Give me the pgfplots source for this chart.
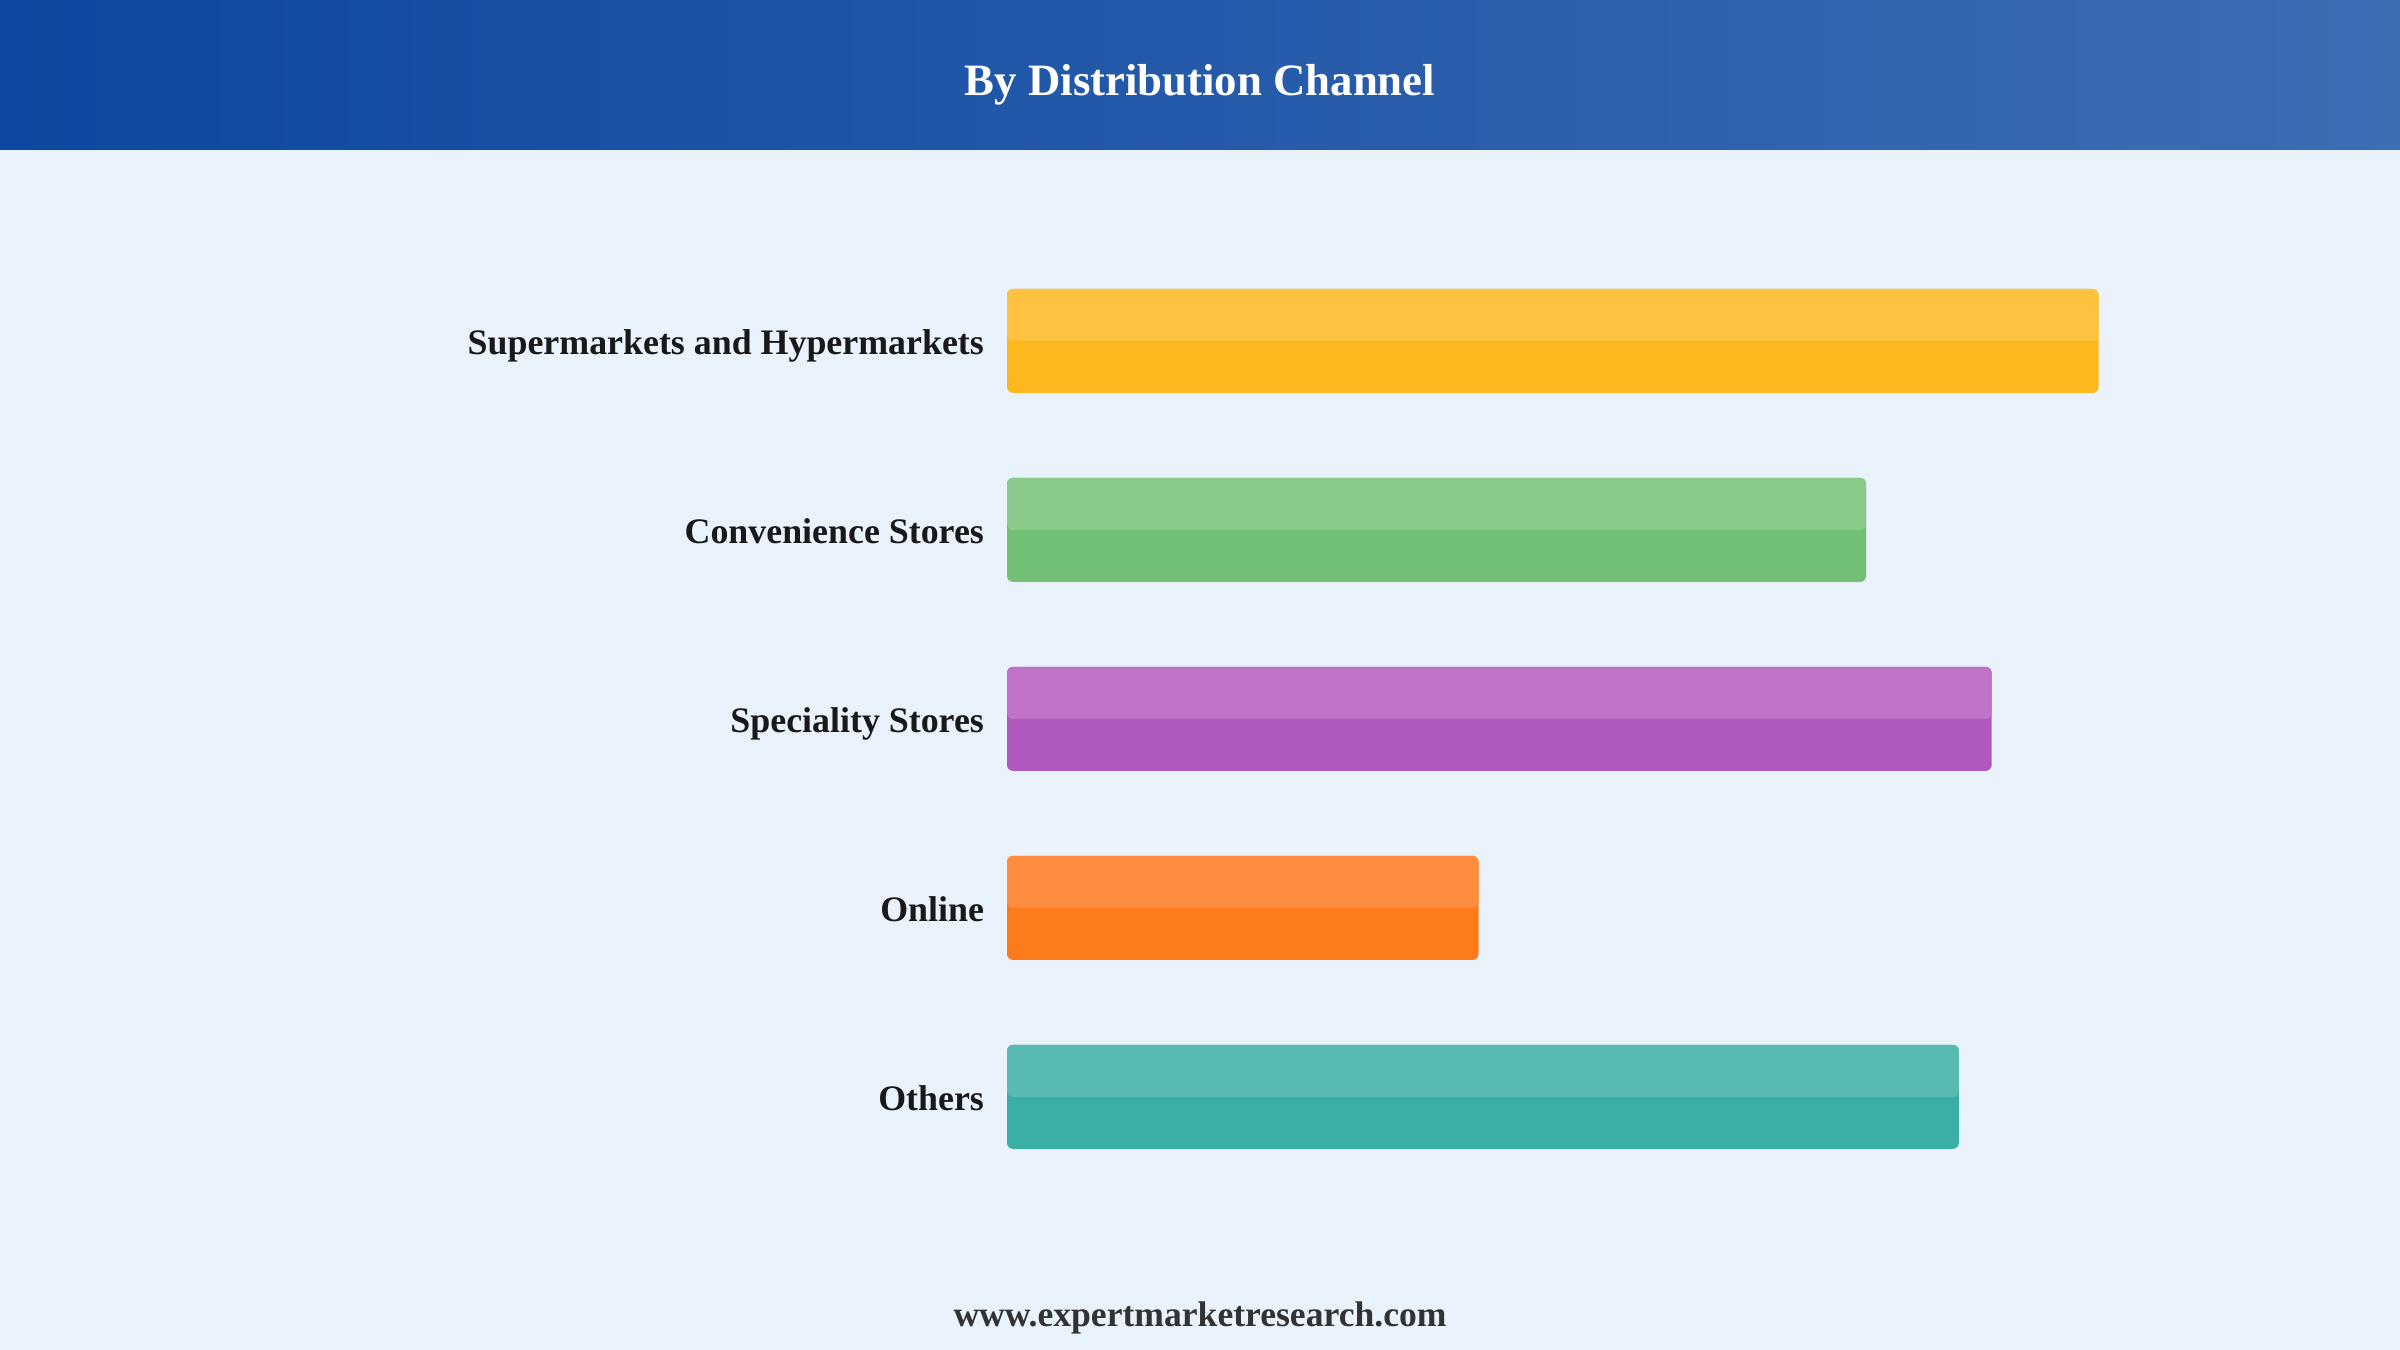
\documentclass[border=0pt]{standalone}
\usepackage{fontspec}
\setmainfont{Liberation Serif}
\usepackage{pgfplots}
\pgfplotsset{compat=1.18}

\definecolor{bgc}{HTML}{EAF2FC}
\definecolor{hdl}{HTML}{0D47A1}
\definecolor{hdr}{HTML}{3D6DB3}
\definecolor{ydark}{HTML}{FDB81D}
\definecolor{ylight}{HTML}{FDC240}
\definecolor{gdark}{HTML}{72C076}
\definecolor{glight}{HTML}{89CA8B}
\definecolor{pdark}{HTML}{AF59BE}
\definecolor{plight}{HTML}{BF72C8}
\definecolor{odark}{HTML}{FE7B1B}
\definecolor{olight}{HTML}{FE8D3F}
\definecolor{tdark}{HTML}{3AAFA6}
\definecolor{tlight}{HTML}{58BAB1}

\begin{document}
\begin{tikzpicture}
% page background and header band
\fill[bgc] (0pt,0pt) rectangle (600pt,-337.5pt);
\shade[left color=hdl, right color=hdr] (0pt,0pt) rectangle (600pt,-37.25pt);
\node[text=white, font=\fontsize{11.2}{13}\selectfont\bfseries] at (300pt,-21.15pt) {By Distribution Channel};
\node[text=black!80, font=\fontsize{8.9}{11}\selectfont\bfseries] at (300pt,-329.4pt) {www.expertmarketresearch.com};

\begin{axis}[
  at={(251.75pt,-61.6pt)}, anchor=north west,
  scale only axis,
  width=272.9pt, height=236.25pt,
  xmin=0, xmax=100,
  ymin=-0.5, ymax=4.5,
  clip=false,
  axis line style={draw=none},
  tick style={draw=none},
  xtick=\empty,
  ytick={0,1,2,3,4},
  yticklabels={Others, Online, Speciality Stores, Convenience Stores, Supermarkets and Hypermarkets},
  yticklabel style={font=\fontsize{8.97}{11}\selectfont\bfseries, text=black!90, inner sep=0pt, anchor=base east, xshift=-1.3pt, yshift=-3.4pt},
  xbar,
  every axis plot/.append style={draw=none, rounded corners=1.5pt},
]
% dark full bars, lighter top halves
\addplot[fill=ydark, bar width=26pt, bar shift=0pt] coordinates {(100,4)};
\addplot[fill=ylight, bar width=13pt, bar shift=6.5pt] coordinates {(100,4)};
\addplot[fill=gdark, bar width=26pt, bar shift=0pt] coordinates {(78.7,3)};
\addplot[fill=glight, bar width=13pt, bar shift=6.5pt] coordinates {(78.7,3)};
\addplot[fill=pdark, bar width=26pt, bar shift=0pt] coordinates {(90.2,2)};
\addplot[fill=plight, bar width=13pt, bar shift=6.5pt] coordinates {(90.2,2)};
\addplot[fill=odark, bar width=26pt, bar shift=0pt] coordinates {(43.2,1)};
\addplot[fill=olight, bar width=13pt, bar shift=6.5pt] coordinates {(43.2,1)};
\addplot[fill=tdark, bar width=26pt, bar shift=0pt] coordinates {(87.2,0)};
\addplot[fill=tlight, bar width=13pt, bar shift=6.5pt] coordinates {(87.2,0)};
\end{axis}
\end{tikzpicture}
\end{document}
